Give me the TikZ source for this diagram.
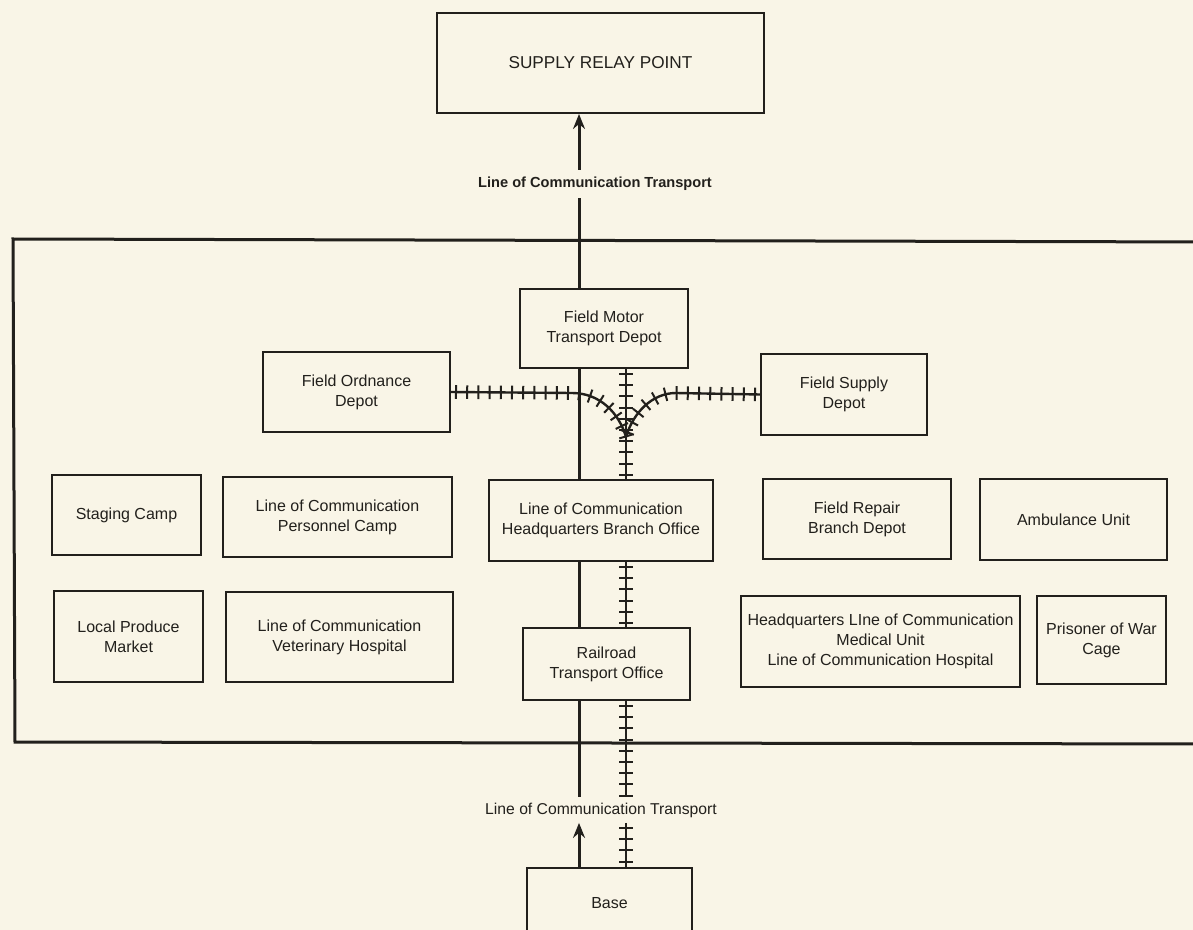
\documentclass[tikz,border=0pt]{standalone}
\usepackage{fontspec}
\setmainfont{Liberation Sans}
\usetikzlibrary{arrows.meta,decorations.markings,calc}
\definecolor{paper}{RGB}{249,245,231}
\definecolor{ink}{RGB}{34,32,28}
\newcommand\mybox[6]{\node[box, minimum width={(#4-#2)*0.5pt}, minimum height={(#5-#3)*0.5pt}] (#1) at ({(#2+#4)/2},{(#3+#5)/2}) {#6};}
\begin{document}
\begin{tikzpicture}[x=0.5pt,y=-0.5pt,
  box/.style={draw=ink, line width=1pt, text=ink, align=center, inner sep=0pt, font=\fontsize{8}{10}\selectfont},
  lbl/.style={text=ink, inner sep=0pt, inner xsep=2pt},
  mainline/.style={draw=ink, line width=1.5pt},
  tip/.style={-{Stealth[length=7.5pt,width=6pt,inset=2.5pt]}},
  frame/.style={draw=ink, line width=1.5pt},
  track/.style={draw=ink, line width=1.2pt, postaction={decorate},
    decoration={markings, mark=between positions 2.5pt and 1 step 5.6pt with {\draw[ink, line width=1pt] (0pt,-3.4pt) -- (0pt,3.4pt);}}}]
\useasboundingbox (0,0) rectangle (1193,930);
\clip (0,0) rectangle (1193,930);
\fill[paper] (0,0) rectangle (1193,930);

% outer frame (open beyond the right edge)
\draw[frame] (1215,242) -- (13,239) -- (15,742) -- (1215,744);

% boxes
\mybox{srp}{437}{13}{764}{113}{\fontsize{8.6}{10}\selectfont SUPPLY RELAY POINT}
\mybox{mtd}{520}{289}{688}{368}{Field Motor\\Transport Depot}
\mybox{fod}{263}{352}{450}{432}{Field Ordnance\\Depot}
\mybox{fsd}{761}{354}{927}{435}{Field Supply\\Depot}
\mybox{stg}{52}{475}{201}{555}{Staging Camp}
\mybox{lpc}{223}{477}{452}{557}{Line of Communication\\Personnel Camp}
\mybox{hq}{489}{480}{713}{561}{Line of Communication\\Headquarters Branch Office}
\mybox{frb}{763}{479}{951}{559}{Field Repair\\Branch Depot}
\mybox{amb}{980}{479}{1167}{560}{Ambulance Unit}
\mybox{lpm}{54}{591}{203}{682}{Local Produce\\Market}
\mybox{vet}{226}{592}{453}{682}{Line of Communication\\Veterinary Hospital}
\mybox{rto}{523}{628}{690}{700}{Railroad\\Transport Office}
\mybox{med}{741}{596}{1020}{687}{Headquarters LIne of Communication\\Medical Unit\\Line of Communication Hospital}
\mybox{pow}{1037}{596}{1166}{684}{Prisoner of War\\Cage}
\mybox{base}{527}{868}{692}{938}{Base}

% labels
\node[lbl, font=\bfseries\fontsize{7.3}{9}\selectfont, minimum height=14pt] (lct1) at (595,184) {Line of Communication Transport};
\node[lbl, font=\fontsize{7.85}{9}\selectfont, minimum height=12.5pt] (lct2) at (601,810) {Line of Communication Transport};

% reference coordinates
\coordinate (ml) at (579,0);
\coordinate (tk) at (626,0);
\coordinate (jn) at (626,437);

% motor transport line
\draw[mainline, tip] (lct1.north -| ml) -- (srp.south -| ml);
\draw[mainline] (lct1.south -| ml) -- (mtd.north -| ml);
\draw[mainline] (mtd.south -| ml) -- (hq.north -| ml);
\draw[mainline] (hq.south -| ml) -- (rto.north -| ml);
\draw[mainline] (rto.south -| ml) -- (lct2.north -| ml);
\draw[mainline, tip] (base.north -| ml) -- (lct2.south -| ml);

% railroad tracks
\draw[track] (mtd.south -| tk) -- (hq.north -| tk);
\draw[track] (hq.south -| tk) -- (rto.north -| tk);
\draw[track] (rto.south -| tk) -- (lct2.north -| tk);
\draw[track] (lct2.south -| tk) -- (base.north -| tk);
\draw[track] (fod.east) -- (572,393) .. controls (600,393) and (619,413) .. (jn);
\draw[track] (fsd.west) -- (676,393) .. controls (652,393) and (633,413) .. (jn);
\end{tikzpicture}
\end{document}
